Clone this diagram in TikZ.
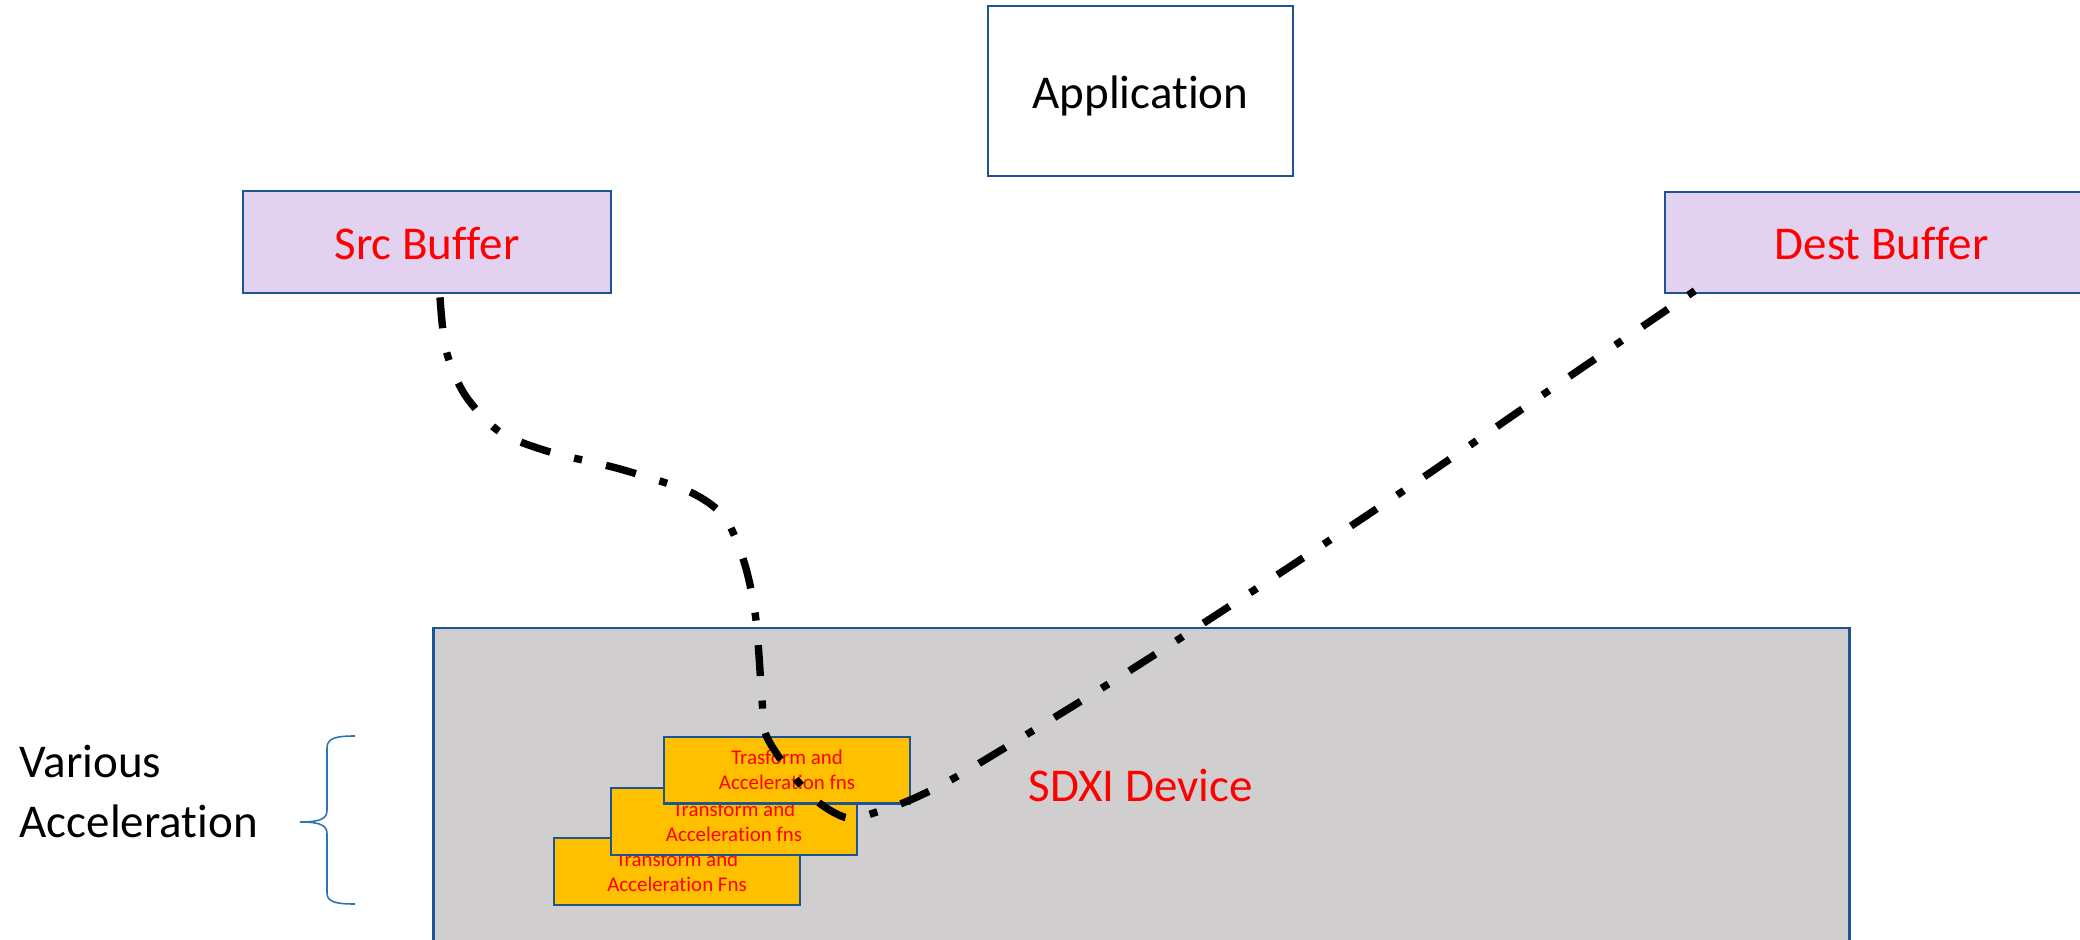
\documentclass[tikz,border=0pt]{standalone}
\usepackage{fontspec}
\setmainfont[Ligatures={NoCommon}]{Carlito}
\definecolor{edgeblue}{RGB}{28,84,148}
\definecolor{bracecol}{RGB}{46,117,182}
\definecolor{bufferfill}{RGB}{226,210,240}
\definecolor{devicefill}{RGB}{208,206,206}
\definecolor{accelfill}{RGB}{255,192,0}
\definecolor{labelred}{RGB}{255,0,0}
\tikzset{
  bigtext/.style={font=\fontsize{13.37pt}{16.8pt}\selectfont},
  smalltext/.style={font=\fontsize{5.95pt}{7.1pt}\selectfont},
  panel/.style={draw=edgeblue, line width=0.77pt, inner sep=0pt, bigtext, text height=0.345cm, text depth=0pt},
  bufferbox/.style={panel, fill=bufferfill, text=labelred},
  accelbox/.style={draw=edgeblue, line width=0.7pt, fill=accelfill, text=labelred, smalltext,
    align=center, inner sep=0pt, minimum width=2.46cm, minimum height=0.665cm},
  flow/.style={black, line width=2.1pt, dash pattern=on 8.8pt off 7pt on 2.3pt off 7pt},
  bracepath/.style={draw=bracecol, line width=0.45pt},
}
\begin{document}
\begin{tikzpicture}[x=0.01cm, y=-0.01cm]
\useasboundingbox (0,0) rectangle (2080,940);
\clip (0,0) rectangle (2080,940);

% host side
\node[panel, fill=white, minimum width=3.05cm, minimum height=1.70cm] (app) at (1140.5,91) {Application};
\node[bufferbox, minimum width=3.68cm, minimum height=1.02cm] (src) at (427,242) {Src Buffer};
\node[bufferbox, minimum width=4.33cm, minimum height=1.01cm] (dest) at (1881.5,242.5) {Dest Buffer};

% device with stacked function blocks
\node[draw=edgeblue, line width=0.77pt, fill=devicefill, minimum width=14.15cm, minimum height=3.40cm, inner sep=0pt] (device) at (1141.5,798) {};
\node[bigtext, text=labelred, anchor=base, inner sep=0pt] (devlabel) at (1140.5,801) {SDXI Device};
\node[accelbox] (acc3) at (677,871.5) {Transform and\\Acceleration Fns};
\node[accelbox] (acc2) at (734,821.5) {Transform and\\Acceleration fns};
\node[accelbox] (acc1) at (787,770) {Trasform and\\Acceleration fns};

% side label and brace (base anchor sits on the last line)
\node[bigtext, align=left, anchor=base west, inner sep=0pt] (various) at (19,837) {Various\\Acceleration};
\coordinate (bracetip) at (300,822);
\draw[bracepath] (355,736) .. controls (336,736) and (327,738) .. (327,748) -- (327,810)
  .. controls (327,818) and (322,822) .. (bracetip)
  .. controls (322,822) and (327,826) .. (327,834) -- (327,893)
  .. controls (327,902) and (336,904) .. (355,904);

% data path from source buffer through the device to the destination buffer
\coordinate (destEnd) at (1712,279);
\draw[flow] plot[smooth, tension=0.5] coordinates {([shift={(13,3)}]src.south) (446,350) (465,395) (500,432) (550,452) (620,469) (690,492) (725,518) (745,565) (756,620) (762,700) (766,735) (790,772) (818,802) (848,818) (880,811) (917,797) (968,770) (1118,678) (1265,583) (1412,485) (1557,385) (destEnd)};
\end{tikzpicture}
\end{document}
